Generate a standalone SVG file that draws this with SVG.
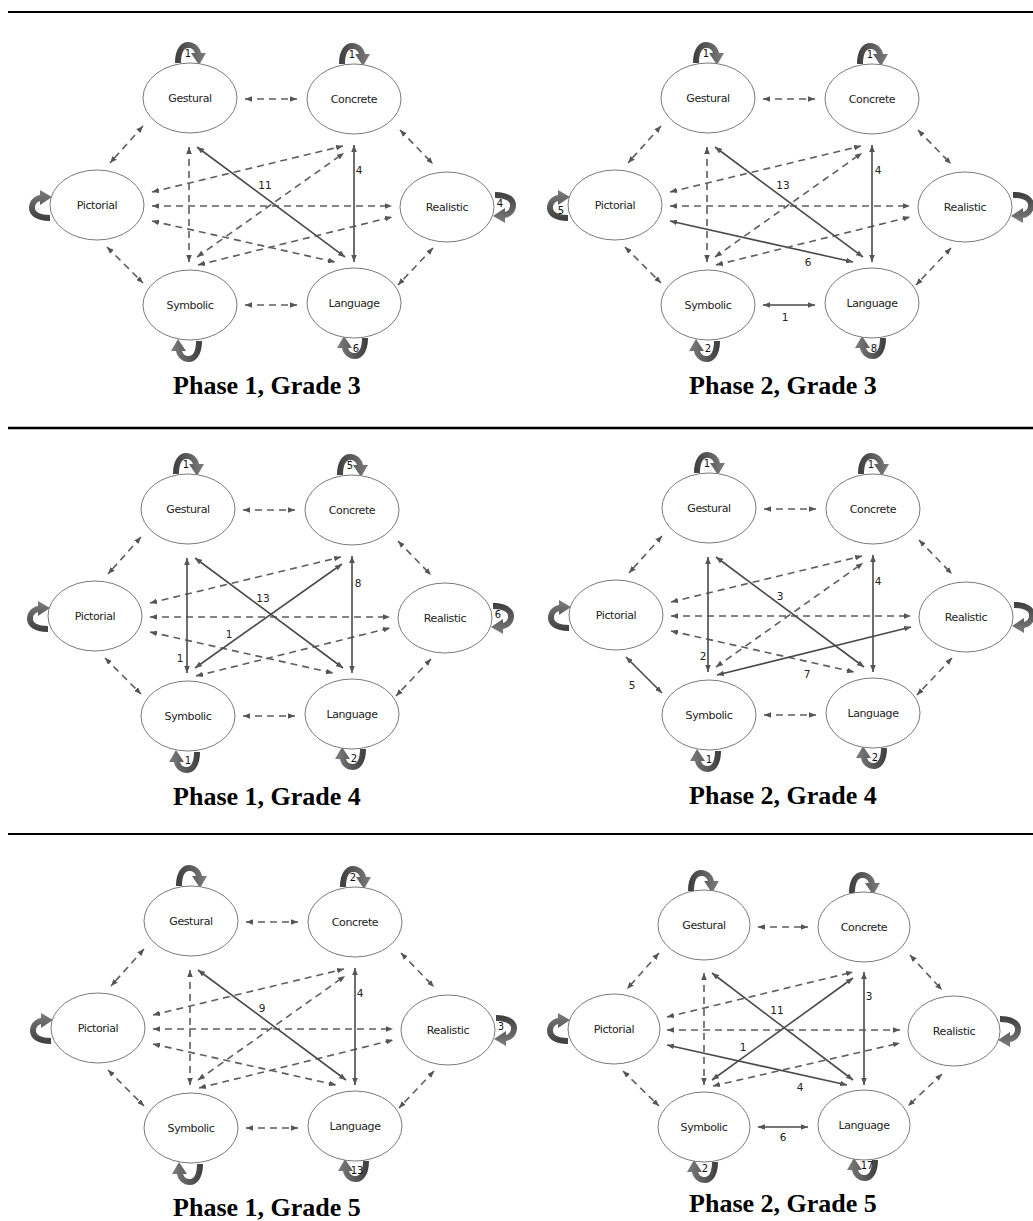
<svg xmlns="http://www.w3.org/2000/svg" width="1033" height="1221" viewBox="0 0 1033 1221">
<style>
.sep{stroke:#000;fill:none}
.node ellipse{fill:#fff;stroke:#7a7a7a;stroke-width:1}
.node text{font-family:"DejaVu Sans",Verdana,sans-serif;font-size:11px;letter-spacing:-0.4px;fill:#222;text-anchor:middle}
.d{stroke:#5e5e5e;stroke-width:1.6;stroke-dasharray:7 5;fill:none;marker-start:url(#ah);marker-end:url(#ah)}
.s{stroke:#4a4a4a;stroke-width:1.6;fill:none;marker-start:url(#ah);marker-end:url(#ah)}
.lbl{font-family:"DejaVu Sans",Verdana,sans-serif;font-size:10.5px;fill:#222;text-anchor:middle}
.ll{font-family:"DejaVu Sans",Verdana,sans-serif;font-size:10px;fill:#111;text-anchor:middle}
.title{font-family:"Liberation Serif","Times New Roman",serif;font-weight:bold;font-size:26px;text-anchor:middle;fill:#000}
.loop{fill:url(#lg)}
</style>
<defs>
<marker id="ah" viewBox="0 0 10 8" refX="10" refY="4" markerWidth="7" markerHeight="5.6" markerUnits="userSpaceOnUse" orient="auto-start-reverse">
<path d="M0,0 L10,4 L0,8 Z" fill="#555"/>
</marker>
<linearGradient id="lg" x1="0" y1="0" x2="1" y2="0">
<stop offset="0" stop-color="#3d3d3d"/>
<stop offset="1" stop-color="#7d7d7d"/>
</linearGradient>
<path id="loop" class="loop" d="M-13,0 C-13,-14 -7,-21 0,-21 C7,-21 12,-16 13,-10 L18,-10 L11,2 L3,-10 L7,-10 C6,-13 4,-15 0,-15 C-4,-15 -7,-10 -7,0 Z"/>
</defs>

<g id="separators">
<line class="sep" x1="8" y1="12" x2="1033" y2="12" stroke-width="2"/>
<line class="sep" x1="8" y1="428" x2="1033" y2="428" stroke-width="2.7"/>
<line class="sep" x1="8" y1="834" x2="1033" y2="834" stroke-width="2.2"/>
</g>

<!-- Panel 1: Phase 1, Grade 3 -->
<g id="p1g3">
<g id="p1g3-connectors">
<path class="d" d="M245,99 L297,99"/>
<path class="d" d="M143,126 L110,163"/>
<path class="d" d="M400,130 L433,164"/>
<path class="d" d="M107,247 L143,283"/>
<path class="d" d="M433,248 L398,285"/>
<path class="d" d="M245,305 L297,305"/>
<path class="d" d="M152,192 L343,146"/>
<path class="d" d="M152,206 L392,206"/>
<path class="d" d="M152,221 L335,262"/>
<path class="d" d="M197,257 L344,153"/>
<path class="d" d="M198,265 L392,217"/>
<path class="d" d="M189,147 L189,262"/>
<path class="s" d="M197,147 L345,257"/>
<path class="s" d="M354,145 L354,262"/>
<text class="lbl" x="265" y="189">11</text>
<text class="lbl" x="359" y="174">4</text>
<use href="#loop" transform="translate(188,63)"/>
<use href="#loop" transform="translate(352,64)"/>
<use href="#loop" transform="translate(50,208) rotate(-90)"/>
<use href="#loop" transform="translate(495,205) rotate(90)"/>
<use href="#loop" transform="translate(189,341) rotate(180)"/>
<use href="#loop" transform="translate(355,338) rotate(180)"/>
<text class="ll" x="188" y="56.5">1</text>
<text class="ll" x="352" y="57.5">1</text>
<text class="ll" x="500" y="206.5">4</text>
<text class="ll" x="356" y="351.5">6</text>
</g>
<g id="p1g3-gestural" class="node"><ellipse cx="190" cy="98" rx="47" ry="35"/><text x="190" y="102">Gestural</text></g>
<g id="p1g3-concrete" class="node"><ellipse cx="354" cy="99" rx="47" ry="35"/><text x="354" y="103">Concrete</text></g>
<g id="p1g3-pictorial" class="node"><ellipse cx="97" cy="205" rx="47" ry="35"/><text x="97" y="209">Pictorial</text></g>
<g id="p1g3-realistic" class="node"><ellipse cx="447" cy="207" rx="47" ry="35"/><text x="447" y="211">Realistic</text></g>
<g id="p1g3-symbolic" class="node"><ellipse cx="190" cy="305" rx="47" ry="35"/><text x="190" y="309">Symbolic</text></g>
<g id="p1g3-language" class="node"><ellipse cx="354" cy="303" rx="47" ry="35"/><text x="354" y="307">Language</text></g>
</g>

<!-- Panel 2: Phase 2, Grade 3 -->
<g id="p2g3" transform="translate(518,0)">
<g id="p2g3-connectors">
<path class="d" d="M245,99 L297,99"/>
<path class="d" d="M143,126 L110,163"/>
<path class="d" d="M400,130 L433,164"/>
<path class="d" d="M107,247 L143,283"/>
<path class="d" d="M433,248 L398,285"/>
<path class="s" d="M245,305 L297,305"/>
<path class="d" d="M152,192 L343,146"/>
<path class="d" d="M152,206 L392,206"/>
<path class="s" d="M152,221 L335,262"/>
<path class="d" d="M197,257 L344,153"/>
<path class="d" d="M198,265 L392,217"/>
<path class="d" d="M189,147 L189,262"/>
<path class="s" d="M197,147 L345,257"/>
<path class="s" d="M354,145 L354,262"/>
<text class="lbl" x="267" y="321">1</text>
<text class="lbl" x="290" y="266">6</text>
<text class="lbl" x="265" y="189">13</text>
<text class="lbl" x="360" y="174">4</text>
<use href="#loop" transform="translate(188,63)"/>
<use href="#loop" transform="translate(352,64)"/>
<use href="#loop" transform="translate(50,208) rotate(-90)"/>
<use href="#loop" transform="translate(495,205) rotate(90)"/>
<use href="#loop" transform="translate(189,341) rotate(180)"/>
<use href="#loop" transform="translate(355,338) rotate(180)"/>
<text class="ll" x="188" y="56.5">1</text>
<text class="ll" x="352" y="57.5">1</text>
<text class="ll" x="43" y="213.5">5</text>
<text class="ll" x="190" y="352">2</text>
<text class="ll" x="356" y="351.5">8</text>
</g>
<g id="p2g3-gestural" class="node"><ellipse cx="190" cy="98" rx="47" ry="35"/><text x="190" y="102">Gestural</text></g>
<g id="p2g3-concrete" class="node"><ellipse cx="354" cy="99" rx="47" ry="35"/><text x="354" y="103">Concrete</text></g>
<g id="p2g3-pictorial" class="node"><ellipse cx="97" cy="205" rx="47" ry="35"/><text x="97" y="209">Pictorial</text></g>
<g id="p2g3-realistic" class="node"><ellipse cx="447" cy="207" rx="47" ry="35"/><text x="447" y="211">Realistic</text></g>
<g id="p2g3-symbolic" class="node"><ellipse cx="190" cy="305" rx="47" ry="35"/><text x="190" y="309">Symbolic</text></g>
<g id="p2g3-language" class="node"><ellipse cx="354" cy="303" rx="47" ry="35"/><text x="354" y="307">Language</text></g>
</g>

<!-- Panel 3: Phase 1, Grade 4 -->
<g id="p1g4" transform="translate(-2,411)">
<g id="p1g4-connectors">
<path class="d" d="M245,99 L297,99"/>
<path class="d" d="M143,126 L110,163"/>
<path class="d" d="M400,130 L433,164"/>
<path class="d" d="M107,247 L143,283"/>
<path class="d" d="M433,248 L398,285"/>
<path class="d" d="M245,305 L297,305"/>
<path class="d" d="M152,192 L343,146"/>
<path class="d" d="M152,206 L392,206"/>
<path class="d" d="M152,221 L335,262"/>
<path class="s" d="M197,257 L344,153"/>
<path class="d" d="M198,265 L392,217"/>
<path class="s" d="M189,147 L189,262"/>
<path class="s" d="M197,147 L345,257"/>
<path class="s" d="M354,145 L354,262"/>
<text class="lbl" x="182" y="251">1</text>
<text class="lbl" x="231" y="227">1</text>
<text class="lbl" x="265" y="191">13</text>
<text class="lbl" x="360" y="176">8</text>
<use href="#loop" transform="translate(188,63)"/>
<use href="#loop" transform="translate(352,64)"/>
<use href="#loop" transform="translate(50,208) rotate(-90)"/>
<use href="#loop" transform="translate(495,205) rotate(90)"/>
<use href="#loop" transform="translate(189,341) rotate(180)"/>
<use href="#loop" transform="translate(355,338) rotate(180)"/>
<text class="ll" x="188" y="56.5">1</text>
<text class="ll" x="352" y="57.5">5</text>
<text class="ll" x="500" y="206.5">6</text>
<text class="ll" x="190" y="353">1</text>
<text class="ll" x="356" y="350.5">2</text>
</g>
<g id="p1g4-gestural" class="node"><ellipse cx="190" cy="98" rx="47" ry="35"/><text x="190" y="102">Gestural</text></g>
<g id="p1g4-concrete" class="node"><ellipse cx="354" cy="99" rx="47" ry="35"/><text x="354" y="103">Concrete</text></g>
<g id="p1g4-pictorial" class="node"><ellipse cx="97" cy="205" rx="47" ry="35"/><text x="97" y="209">Pictorial</text></g>
<g id="p1g4-realistic" class="node"><ellipse cx="447" cy="207" rx="47" ry="35"/><text x="447" y="211">Realistic</text></g>
<g id="p1g4-symbolic" class="node"><ellipse cx="190" cy="305" rx="47" ry="35"/><text x="190" y="309">Symbolic</text></g>
<g id="p1g4-language" class="node"><ellipse cx="354" cy="303" rx="47" ry="35"/><text x="354" y="307">Language</text></g>
</g>

<!-- Panel 4: Phase 2, Grade 4 -->
<g id="p2g4" transform="translate(519,410)">
<g id="p2g4-connectors">
<path class="d" d="M245,99 L297,99"/>
<path class="d" d="M143,126 L110,163"/>
<path class="d" d="M400,130 L433,164"/>
<path class="s" d="M107,247 L143,283"/>
<path class="d" d="M433,248 L398,285"/>
<path class="d" d="M245,305 L297,305"/>
<path class="d" d="M152,192 L343,146"/>
<path class="d" d="M152,206 L392,206"/>
<path class="d" d="M152,221 L335,262"/>
<path class="d" d="M197,257 L344,153"/>
<path class="s" d="M198,265 L392,217"/>
<path class="s" d="M189,147 L189,262"/>
<path class="s" d="M197,147 L345,257"/>
<path class="s" d="M354,145 L354,262"/>
<text class="lbl" x="113" y="279">5</text>
<text class="lbl" x="288" y="268">7</text>
<text class="lbl" x="184" y="250">2</text>
<text class="lbl" x="261" y="190">3</text>
<text class="lbl" x="359" y="175">4</text>
<use href="#loop" transform="translate(188,63)"/>
<use href="#loop" transform="translate(352,64)"/>
<use href="#loop" transform="translate(50,208) rotate(-90)"/>
<use href="#loop" transform="translate(495,205) rotate(90)"/>
<use href="#loop" transform="translate(189,341) rotate(180)"/>
<use href="#loop" transform="translate(355,338) rotate(180)"/>
<text class="ll" x="188" y="56.5">1</text>
<text class="ll" x="352" y="57.5">1</text>
<text class="ll" x="190" y="353">1</text>
<text class="ll" x="356" y="350.5">2</text>
</g>
<g id="p2g4-gestural" class="node"><ellipse cx="190" cy="98" rx="47" ry="35"/><text x="190" y="102">Gestural</text></g>
<g id="p2g4-concrete" class="node"><ellipse cx="354" cy="99" rx="47" ry="35"/><text x="354" y="103">Concrete</text></g>
<g id="p2g4-pictorial" class="node"><ellipse cx="97" cy="205" rx="47" ry="35"/><text x="97" y="209">Pictorial</text></g>
<g id="p2g4-realistic" class="node"><ellipse cx="447" cy="207" rx="47" ry="35"/><text x="447" y="211">Realistic</text></g>
<g id="p2g4-symbolic" class="node"><ellipse cx="190" cy="305" rx="47" ry="35"/><text x="190" y="309">Symbolic</text></g>
<g id="p2g4-language" class="node"><ellipse cx="354" cy="303" rx="47" ry="35"/><text x="354" y="307">Language</text></g>
</g>

<!-- Panel 5: Phase 1, Grade 5 -->
<g id="p1g5" transform="translate(1,823)">
<g id="p1g5-connectors">
<path class="d" d="M245,99 L297,99"/>
<path class="d" d="M143,126 L110,163"/>
<path class="d" d="M400,130 L433,164"/>
<path class="d" d="M107,247 L143,283"/>
<path class="d" d="M433,248 L398,285"/>
<path class="d" d="M245,305 L297,305"/>
<path class="d" d="M152,192 L343,146"/>
<path class="d" d="M152,206 L392,206"/>
<path class="d" d="M152,221 L335,262"/>
<path class="d" d="M197,257 L344,153"/>
<path class="d" d="M198,265 L392,217"/>
<path class="d" d="M189,147 L189,262"/>
<path class="s" d="M197,147 L345,257"/>
<path class="s" d="M354,145 L354,262"/>
<text class="lbl" x="261" y="189">9</text>
<text class="lbl" x="359" y="174">4</text>
<use href="#loop" transform="translate(188,63)"/>
<use href="#loop" transform="translate(352,64)"/>
<use href="#loop" transform="translate(50,208) rotate(-90)"/>
<use href="#loop" transform="translate(495,205) rotate(90)"/>
<use href="#loop" transform="translate(189,341) rotate(180)"/>
<use href="#loop" transform="translate(355,338) rotate(180)"/>
<text class="ll" x="352" y="57.5">2</text>
<text class="ll" x="500" y="206.5">3</text>
<text class="ll" x="356" y="350.5">13</text>
</g>
<g id="p1g5-gestural" class="node"><ellipse cx="190" cy="98" rx="47" ry="35"/><text x="190" y="102">Gestural</text></g>
<g id="p1g5-concrete" class="node"><ellipse cx="354" cy="99" rx="47" ry="35"/><text x="354" y="103">Concrete</text></g>
<g id="p1g5-pictorial" class="node"><ellipse cx="97" cy="205" rx="47" ry="35"/><text x="97" y="209">Pictorial</text></g>
<g id="p1g5-realistic" class="node"><ellipse cx="447" cy="207" rx="47" ry="35"/><text x="447" y="211">Realistic</text></g>
<g id="p1g5-symbolic" class="node"><ellipse cx="190" cy="305" rx="47" ry="35"/><text x="190" y="309">Symbolic</text></g>
<g id="p1g5-language" class="node"><ellipse cx="354" cy="303" rx="47" ry="35"/><text x="354" y="307">Language</text></g>
</g>

<!-- Panel 6: Phase 2, Grade 5 -->
<g id="p2g5">
<g id="p2g5-connectors">
<path class="d" d="M758,927 L808,927"/>
<path class="d" d="M659,953 L627,989"/>
<path class="d" d="M910,955 L942,990"/>
<path class="d" d="M623,1071 L659,1106"/>
<path class="d" d="M942,1074 L908,1106"/>
<path class="s" d="M758,1127 L808,1127"/>
<path class="d" d="M667,1017 L853,972"/>
<path class="d" d="M667,1030 L900,1030"/>
<path class="s" d="M667,1045 L847,1085"/>
<path class="s" d="M712,1080 L853,978"/>
<path class="d" d="M713,1086 L900,1043"/>
<path class="d" d="M704,973 L704,1085"/>
<path class="s" d="M712,973 L853,1080"/>
<path class="s" d="M864,972 L864,1085"/>
<text class="lbl" x="783" y="1141">6</text>
<text class="lbl" x="800" y="1091">4</text>
<text class="lbl" x="743" y="1051">1</text>
<text class="lbl" x="777" y="1014">11</text>
<text class="lbl" x="869" y="1000">3</text>
<use href="#loop" transform="translate(701,891)"/>
<use href="#loop" transform="translate(862,893)"/>
<use href="#loop" transform="translate(568,1031) rotate(-90)"/>
<use href="#loop" transform="translate(1000,1029) rotate(90)"/>
<use href="#loop" transform="translate(705,1162) rotate(180)"/>
<use href="#loop" transform="translate(865,1160) rotate(180)"/>
<text class="ll" x="705" y="1171.5">2</text>
<text class="ll" x="867" y="1169">17</text>
</g>
<g id="p2g5-gestural" class="node"><ellipse cx="704" cy="925" rx="46" ry="35"/><text x="704" y="929">Gestural</text></g>
<g id="p2g5-concrete" class="node"><ellipse cx="864" cy="927" rx="46" ry="35"/><text x="864" y="931">Concrete</text></g>
<g id="p2g5-pictorial" class="node"><ellipse cx="614" cy="1029" rx="46" ry="35"/><text x="614" y="1033">Pictorial</text></g>
<g id="p2g5-realistic" class="node"><ellipse cx="954" cy="1031" rx="46" ry="35"/><text x="954" y="1035">Realistic</text></g>
<g id="p2g5-symbolic" class="node"><ellipse cx="704" cy="1127" rx="46" ry="35"/><text x="704" y="1131">Symbolic</text></g>
<g id="p2g5-language" class="node"><ellipse cx="864" cy="1125" rx="46" ry="35"/><text x="864" y="1129">Language</text></g>
</g>

<g id="titles">
<text class="title" x="267" y="394">Phase 1, Grade 3</text>
<text class="title" x="783" y="394">Phase 2, Grade 3</text>
<text class="title" x="267" y="805">Phase 1, Grade 4</text>
<text class="title" x="783" y="804">Phase 2, Grade 4</text>
<text class="title" x="267" y="1216">Phase 1, Grade 5</text>
<text class="title" x="783" y="1212">Phase 2, Grade 5</text>
</g>
</svg>
